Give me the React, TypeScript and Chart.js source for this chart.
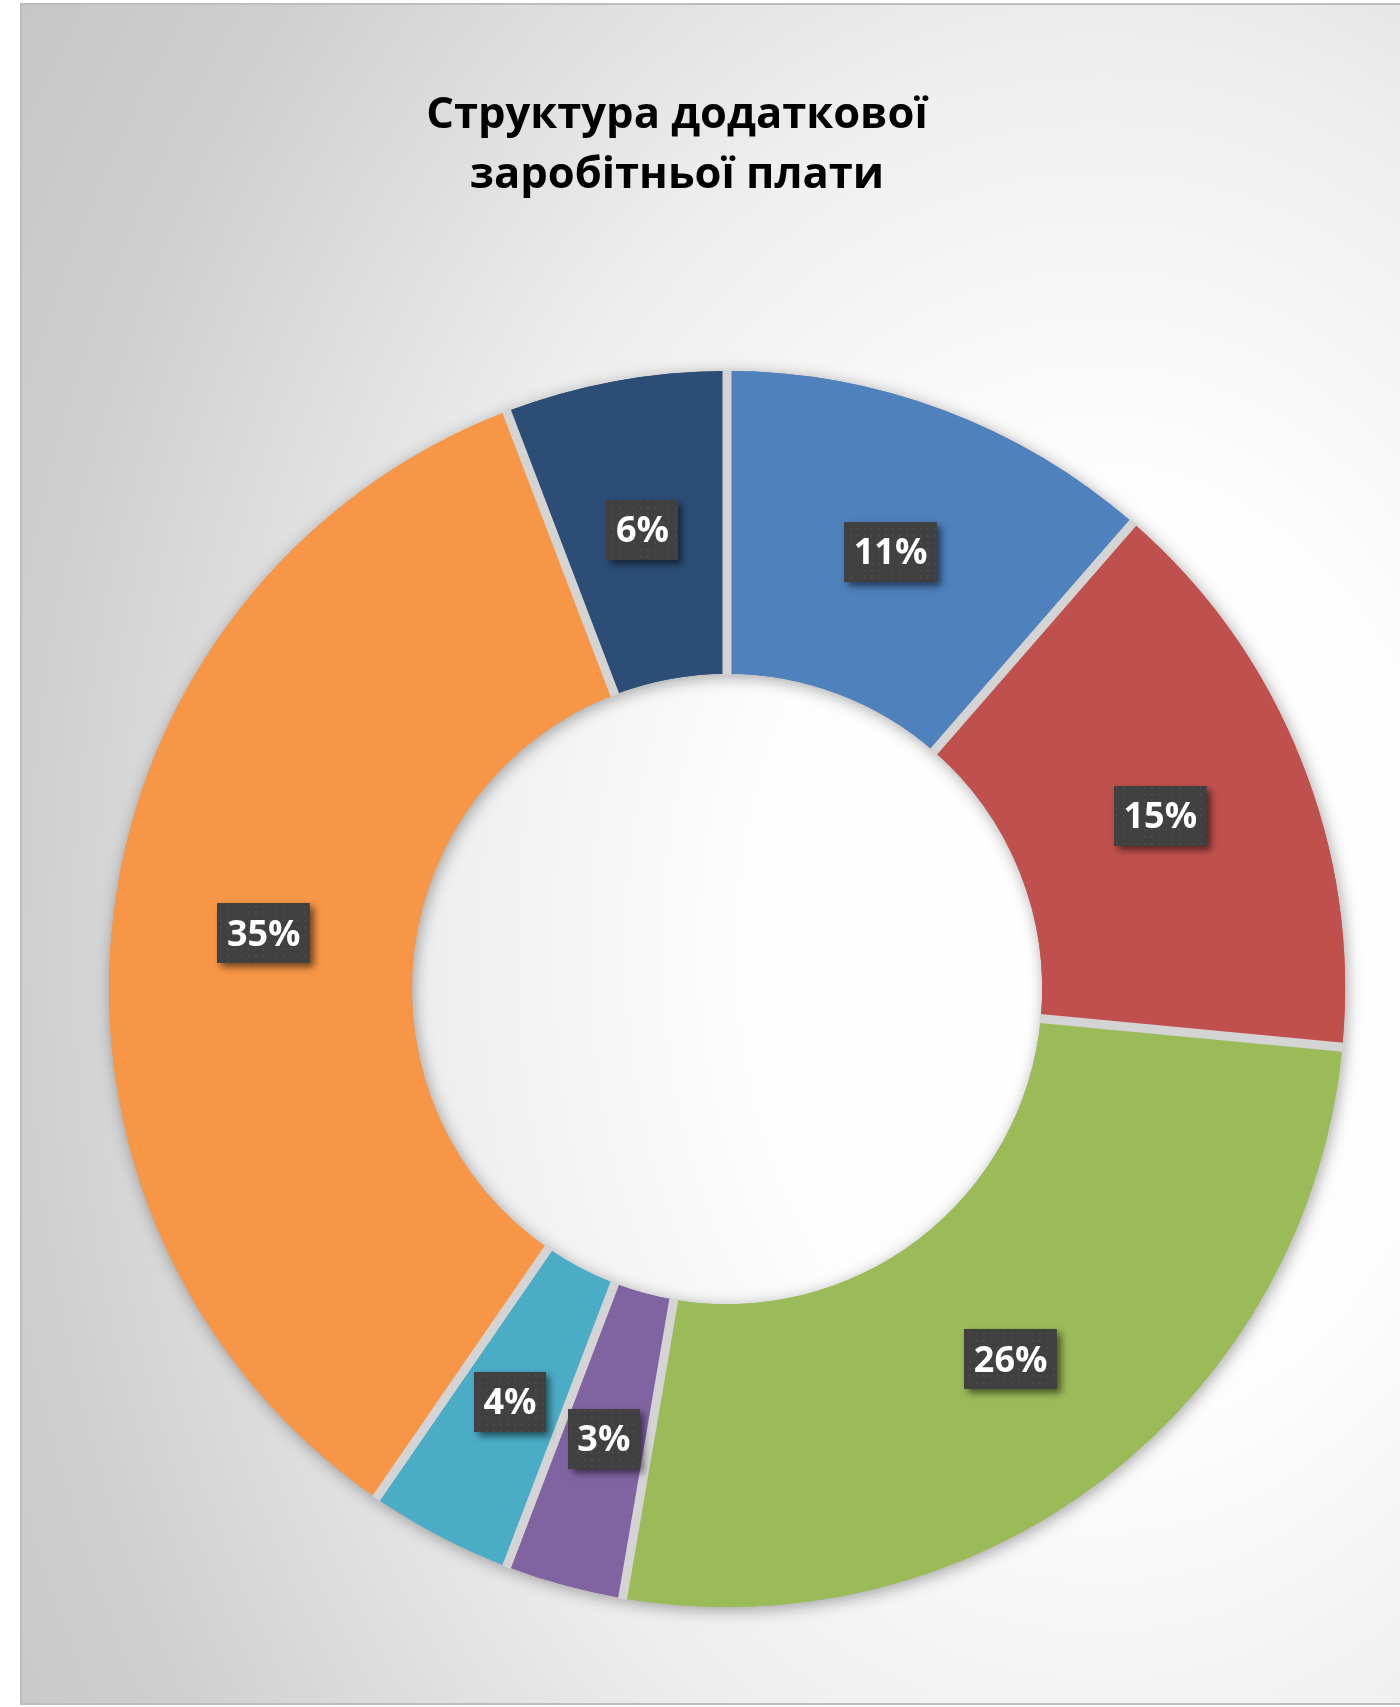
import React, { useEffect, useRef } from "react";
import { Chart, registerables } from "chart.js";

Chart.register(...registerables);

const titleLines = ["Структура додаткової", "заробітньої плати"];
const categories = ["Частина 1", "Частина 2", "Частина 3", "Частина 4", "Частина 5", "Частина 6", "Частина 7"];
const values = [11.4, 15.1, 26.2, 3.1, 3.8, 34.6, 5.8];
const sliceColors = ["#4f81bd", "#c0504d", "#9bbb59", "#8064a2", "#4bacc6", "#f79646", "#2c4d75"];

const W = 1400;
const H = 1707;
const CX = 727;
const CY = 989;
const R = 618;

function makePattern(ctx: CanvasRenderingContext2D) {
  const c = document.createElement("canvas");
  c.width = 7;
  c.height = 7;
  const p = c.getContext("2d")!;
  p.fillStyle = "#404040";
  p.fillRect(0, 0, 7, 7);
  p.fillStyle = "#505050";
  p.fillRect(3, 3, 1.5, 1.5);
  return ctx.createPattern(c, "repeat");
}

export default function App() {
  const ref = useRef<HTMLCanvasElement>(null);

  useEffect(() => {
    const canvas = ref.current!;
    const ctx0 = canvas.getContext("2d")!;
    const pattern = makePattern(ctx0);
    const total = values.reduce((a, b) => a + b, 0);

    const deco = {
      id: "deco",
      beforeDraw(chart: any) {
        const ctx = chart.ctx as CanvasRenderingContext2D;
        ctx.save();
        ctx.fillStyle = "#ffffff";
        ctx.fillRect(0, 0, W, H);
        // elliptical radial background gradient
        const gx = 1100;
        const gy = 950;
        const sy = 0.75;
        ctx.save();
        ctx.translate(gx, gy);
        ctx.scale(1, 1 / sy);
        const g = ctx.createRadialGradient(0, 0, 0, 0, 0, 1300);
        g.addColorStop(0, "#ffffff");
        g.addColorStop(0.28, "#fdfdfd");
        g.addColorStop(0.52, "#eeeeee");
        g.addColorStop(0.83, "#cfcfcf");
        g.addColorStop(1, "#c6c6c6");
        ctx.fillStyle = g;
        ctx.fillRect(21 - gx, (3 - gy) * sy, W - 21, 1702 * sy);
        ctx.restore();
        ctx.strokeStyle = "#bdbdbd";
        ctx.lineWidth = 2;
        ctx.strokeRect(21, 4, W + 20, 1700);
        ctx.fillStyle = "#000000";
        ctx.font = 'bold 43.5px "Open Sans"';
        ctx.textAlign = "center";
        ctx.textBaseline = "alphabetic";
        ctx.fillText(titleLines[0], 677, 128);
        ctx.fillText(titleLines[1], 677, 188);
        ctx.restore();
      },
      beforeDatasetsDraw(chart: any) {
        const ctx = chart.ctx as CanvasRenderingContext2D;
        const meta = chart.getDatasetMeta(0);
        ctx.save();
        ctx.shadowColor = "rgba(0,0,0,0.35)";
        ctx.shadowBlur = 16;
        ctx.shadowOffsetX = 2;
        ctx.shadowOffsetY = 3;
        meta.data.forEach((a: any) => a.draw(ctx));
        ctx.restore();
      },
      afterDatasetsDraw(chart: any) {
        const ctx = chart.ctx as CanvasRenderingContext2D;
        const meta = chart.getDatasetMeta(0);
        ctx.save();
        ctx.strokeStyle = "#d4d4d4";
        ctx.lineWidth = 9;
        ctx.lineCap = "butt";
        meta.data.forEach((a: any) => {
          const p = a.getProps(["x", "y", "startAngle", "innerRadius", "outerRadius"], true);
          const c = Math.cos(p.startAngle);
          const s = Math.sin(p.startAngle);
          ctx.beginPath();
          ctx.moveTo(p.x + c * (p.innerRadius - 1), p.y + s * (p.innerRadius - 1));
          ctx.lineTo(p.x + c * (p.outerRadius + 1), p.y + s * (p.outerRadius + 1));
          ctx.stroke();
        });
        ctx.restore();

        ctx.save();
        ctx.font = 'bold 36px "Open Sans"';
        meta.data.forEach((a: any, i: number) => {
          const pt = a.getCenterPoint();
          const txt = `${Math.round((values[i] / total) * 100)}%`;
          const tw = ctx.measureText(txt).width;
          const bw = tw + 19;
          const bh = 60;
          const bx = Math.round(pt.x - bw / 2);
          const by = Math.round(pt.y - bh / 2);
          ctx.save();
          ctx.shadowColor = "rgba(0,0,0,0.55)";
          ctx.shadowBlur = 7;
          ctx.shadowOffsetX = 4;
          ctx.shadowOffsetY = 4;
          ctx.fillStyle = "#404040";
          ctx.fillRect(bx, by, bw, bh);
          ctx.restore();
          if (pattern) {
            ctx.fillStyle = pattern;
            ctx.fillRect(bx, by, bw, bh);
          }
          ctx.fillStyle = "#ffffff";
          ctx.textAlign = "center";
          ctx.textBaseline = "middle";
          ctx.fillText(txt, pt.x, pt.y + 2);
        });
        ctx.restore();
      },
    };

    const chart = new Chart(canvas, {
      type: "doughnut",
      data: {
        labels: categories,
        datasets: [
          {
            data: values,
            backgroundColor: sliceColors,
            borderWidth: 0,
            offset: 0,
            hoverOffset: 0,
          },
        ],
      },
      options: {
        responsive: false,
        animation: false,
        cutout: "51%",
        events: [],
        layout: {
          padding: { left: CX - R, right: W - CX - R, top: CY - R, bottom: H - CY - R },
        },
        plugins: {
          legend: { display: false },
          tooltip: { enabled: false },
          title: { display: false },
        },
      },
      plugins: [deco],
    } as any);

    return () => chart.destroy();
  }, []);

  return (
    <div style={{ position: "absolute", left: 0, top: 0, width: W, height: H }}>
      <canvas ref={ref} width={W} height={H} style={{ display: "block", width: W, height: H }} />
    </div>
  );
}
